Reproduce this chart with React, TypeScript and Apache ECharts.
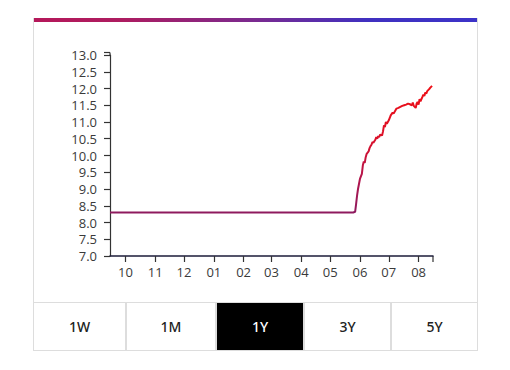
import React, { useEffect, useRef } from "react";
import * as echarts from "echarts";

const startDate = "2023-09-15";
const endDate = "2024-08-16";
const dates: string[] = [
  "2023-09-15", "2023-11-01", "2024-01-02", "2024-03-01", "2024-05-01", "2024-05-25",
  "2024-05-27", "2024-05-28", "2024-05-29", "2024-05-30", "2024-05-31",
  "2024-06-01", "2024-06-03", "2024-06-04", "2024-06-05", "2024-06-06", "2024-06-07",
  "2024-06-08", "2024-06-10", "2024-06-11", "2024-06-12", "2024-06-13", "2024-06-14",
  "2024-06-15", "2024-06-17", "2024-06-18", "2024-06-19", "2024-06-20", "2024-06-21",
  "2024-06-22", "2024-06-24", "2024-06-25", "2024-06-26", "2024-06-27", "2024-06-28",
  "2024-06-29", "2024-07-01", "2024-07-02", "2024-07-03", "2024-07-05", "2024-07-06",
  "2024-07-08", "2024-07-09", "2024-07-11", "2024-07-13", "2024-07-15", "2024-07-17",
  "2024-07-19", "2024-07-21", "2024-07-23", "2024-07-25", "2024-07-26", "2024-07-27",
  "2024-07-29", "2024-07-30", "2024-07-31", "2024-08-01", "2024-08-02", "2024-08-03",
  "2024-08-05", "2024-08-06", "2024-08-07", "2024-08-08", "2024-08-09", "2024-08-10",
  "2024-08-12", "2024-08-13", "2024-08-14", "2024-08-15",
];
const values: number[] = [
  8.3, 8.3, 8.3, 8.3, 8.3, 8.3,
  8.32, 8.55, 8.8, 9.0, 9.15,
  9.3, 9.45, 9.7, 9.82, 9.78, 9.95,
  10.05, 10.12, 10.22, 10.28, 10.32, 10.4,
  10.38, 10.47, 10.55, 10.5, 10.58, 10.55,
  10.62, 10.6, 10.72, 10.9, 10.85, 11.0,
  10.95, 11.05, 11.12, 11.2, 11.28, 11.25,
  11.35, 11.4, 11.42, 11.45, 11.48, 11.5,
  11.52, 11.55, 11.53, 11.5, 11.58, 11.48,
  11.42, 11.55, 11.6, 11.52, 11.68, 11.62,
  11.75, 11.82, 11.78, 11.88, 11.85, 11.92,
  11.98, 12.02, 12.05, 12.08,
];
const buttons: string[] = ["1W", "1M", "1Y", "3Y", "5Y"];
const buttonWidths: number[] = [91, 88, 86, 85, 85];
const activeButton = "1Y";
const yMin = 7;
const yMax = 13;
const yStep = 0.5;

export default function App() {
  const ref = useRef<HTMLDivElement>(null);
  useEffect(() => {
    if (!ref.current) return;
    const chart = echarts.init(ref.current, null, { renderer: "svg" });
    const font = "'Open Sans', 'Noto Sans', sans-serif";
    chart.setOption({
      animation: false,
      grid: { left: 77, right: 45, top: 33, bottom: 47 },
      xAxis: {
        type: "time",
        min: startDate,
        max: endDate,
        minInterval: 28 * 86400000,
        maxInterval: 31 * 86400000,
        axisLine: { lineStyle: { color: "#1c1c3a", width: 1.5 } },
        axisTick: { show: true, length: 6, lineStyle: { color: "#333", width: 1.2 } },
        axisLabel: {
          color: "#3a3a3a",
          fontSize: 13,
          fontFamily: font,
          margin: 9,
          showMinLabel: false,
          showMaxLabel: false,
          formatter: (v: number) => {
            const d = new Date(v);
            return String(d.getMonth() + 1).padStart(2, "0");
          },
        },
        splitLine: { show: false },
      },
      yAxis: {
        type: "value",
        min: yMin,
        max: yMax,
        interval: yStep,
        axisLine: { show: true, lineStyle: { color: "#333", width: 1.2 } },
        axisTick: { show: true, length: 6, lineStyle: { color: "#333", width: 1.2 } },
        axisLabel: {
          color: "#3a3a3a",
          fontSize: 13,
          fontFamily: font,
          margin: 13,
          formatter: (v: number) => v.toFixed(1),
        },
        splitLine: { show: false },
      },
      series: [
        {
          type: "line",
          data: dates.map((d, i) => [d, values[i]]),
          showSymbol: false,
          lineStyle: {
            width: 2,
            color: new echarts.graphic.LinearGradient(0, 1, 0, 0, [
              { offset: 0, color: "#8e1a5e" },
              { offset: 0.3, color: "#b8154a" },
              { offset: 0.6, color: "#dc1028" },
              { offset: 1, color: "#ee0f16" },
            ]),
          },
        },
      ],
    });
    const top = chart.convertToPixel({ gridIndex: 0 }, [endDate, yMax]) as number[];
    const bot = chart.convertToPixel({ gridIndex: 0 }, [startDate, yMin]) as number[];
    chart.setOption({
      graphic: [
        {
          type: "line",
          shape: { x1: top[0], y1: bot[1], x2: top[0], y2: bot[1] + 6 },
          style: { stroke: "#333", lineWidth: 1.2 },
        },
        {
          type: "line",
          shape: { x1: bot[0] - 6, y1: top[1] - 2.5, x2: bot[0], y2: top[1] - 2.5 },
          style: { stroke: "#333", lineWidth: 1.2 },
        },
        {
          type: "line",
          shape: { x1: bot[0], y1: top[1] - 2.5, x2: bot[0], y2: top[1] },
          style: { stroke: "#333", lineWidth: 1.2 },
        },
      ],
    });
    return () => chart.dispose();
  }, []);

  return (
    <div style={{ position: "absolute", left: 0, top: 0, width: 510, height: 370, background: "#fff" }}>
      <div
        style={{
          position: "absolute",
          left: 33,
          top: 18,
          width: 443,
          height: 331,
          border: "1px solid #ddd",
          borderTop: "none",
        }}
      />
      <div
        style={{
          position: "absolute",
          left: 34,
          top: 18,
          width: 443,
          height: 4,
          background: "linear-gradient(90deg, #b5185a 0%, #ad1c60 20%, #7a2a90 50%, #4030c0 75%, #3c33c8 100%)",
        }}
      />
      <div ref={ref} style={{ position: "absolute", left: 33, top: 22, width: 445, height: 281 }} />
      <div
        style={{
          position: "absolute",
          left: 33,
          top: 302,
          width: 445,
          height: 49,
          background: "#ddd",
          display: "flex",
          gap: 2,
          padding: 1,
          boxSizing: "border-box",
        }}
      >
        {buttons.map((b, i) => (
          <div
            key={b}
            style={{
              width: buttonWidths[i],
              flex: "none",
              background: b === activeButton ? "#000" : "#fff",
              color: b === activeButton ? "#fff" : "#222",
              display: "flex",
              alignItems: "center",
              justifyContent: "center",
              fontFamily: "'Noto Sans', 'Open Sans', sans-serif",
              fontSize: 14,
              fontWeight: 500,
            }}
          >
            {b}
          </div>
        ))}
      </div>
    </div>
  );
}
